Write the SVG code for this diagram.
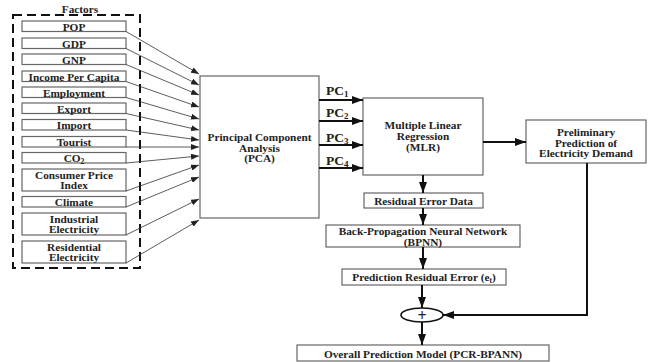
<svg xmlns="http://www.w3.org/2000/svg" width="651" height="362" viewBox="0 0 651 362">
<style>
text{font-family:"Liberation Serif","Times New Roman",serif;font-weight:bold;fill:#222;text-anchor:middle}
.t{font-size:11.3px}
.pc{font-size:13.5px;text-anchor:start}
.box{fill:#fff;stroke:#666;stroke-width:1.2}
.thin{fill:none;stroke:#333;stroke-width:0.8}
.thick{fill:none;stroke:#111;stroke-width:2}
</style>
<defs>
<marker id="ah" markerUnits="userSpaceOnUse" markerWidth="8" markerHeight="6" refX="8" refY="3" orient="auto">
<path d="M0,0 L8,3 L0,6 Z" fill="#222"/>
</marker>
<marker id="ahb" markerUnits="userSpaceOnUse" markerWidth="11" markerHeight="8" refX="11" refY="4" orient="auto">
<path d="M0,0 L11,4 L0,8 Z" fill="#111"/>
</marker>
</defs>
<rect width="651" height="362" fill="#fff"/>
<g id="factors">
<rect x="13" y="15" width="127" height="253" fill="none" stroke="#111" stroke-width="2" stroke-dasharray="9,5"/>
<text class="t" x="80" y="13">Factors</text>
</g>
<g id="f-pop"><rect class="box" x="22" y="21" width="104" height="10.5"/><text class="t" x="74" y="30.5">POP</text></g>
<g id="f-gdp"><rect class="box" x="22" y="38" width="104" height="10.5"/><text class="t" x="74" y="47.5">GDP</text></g>
<g id="f-gnp"><rect class="box" x="22" y="54" width="104" height="10.5"/><text class="t" x="74" y="63.5">GNP</text></g>
<g id="f-income"><rect class="box" x="22" y="71" width="104" height="10.5"/><text class="t" x="74" y="80.5">Income Per Capita</text></g>
<g id="f-emp"><rect class="box" x="22" y="87" width="104" height="10.5"/><text class="t" x="74" y="96.5">Employment</text></g>
<g id="f-export"><rect class="box" x="22" y="103" width="104" height="10.5"/><text class="t" x="74" y="112.5">Export</text></g>
<g id="f-import"><rect class="box" x="22" y="119.5" width="104" height="10.5"/><text class="t" x="74" y="129">Import</text></g>
<g id="f-tourist"><rect class="box" x="22" y="136.5" width="104" height="10.5"/><text class="t" x="74" y="146">Tourist</text></g>
<g id="f-co2"><rect class="box" x="22" y="152.5" width="104" height="10.5"/><text class="t" x="74" y="162">CO<tspan font-size="7.5" dy="2">2</tspan></text></g>
<g id="f-cpi"><rect class="box" x="22" y="169" width="104" height="22"/><text class="t" x="74" y="178.5">Consumer Price</text><text class="t" x="74" y="189">Index</text></g>
<g id="f-climate"><rect class="box" x="22" y="196.5" width="104" height="10.5"/><text class="t" x="74" y="206">Climate</text></g>
<g id="f-ind"><rect class="box" x="22" y="213" width="104" height="22"/><text class="t" x="74" y="222.5">Industrial</text><text class="t" x="74" y="233">Electricity</text></g>
<g id="f-res"><rect class="box" x="22" y="241" width="104" height="22"/><text class="t" x="74" y="250.5">Residential</text><text class="t" x="74" y="261">Electricity</text></g>

<g id="pca"><rect class="box" x="200" y="76" width="119" height="142"/>
<text class="t" x="259.5" y="141">Principal Component</text>
<text class="t" x="259.5" y="151.5">Analysis</text>
<text class="t" x="259.5" y="162">(PCA)</text></g>

<g id="mlr"><rect class="box" x="363" y="98" width="120" height="77"/>
<text class="t" x="423" y="129">Multiple Linear</text>
<text class="t" x="423" y="140">Regression</text>
<text class="t" x="423" y="150.5">(MLR)</text></g>

<g id="prelim"><rect class="box" x="526" y="120" width="120" height="43"/>
<text class="t" x="586" y="136">Preliminary</text>
<text class="t" x="586" y="146.5">Prediction of</text>
<text class="t" x="586" y="157">Electricity Demand</text></g>

<g id="resid"><rect class="box" x="364" y="193" width="119" height="15"/>
<text class="t" x="423.5" y="204.5">Residual Error Data</text></g>

<g id="bpnn"><rect class="box" x="326" y="225" width="194" height="22"/>
<text class="t" x="423" y="235">Back-Propagation Neural Network</text>
<text class="t" x="423" y="245.5">(BPNN)</text></g>

<g id="pre"><rect class="box" x="342" y="269" width="164" height="16"/>
<text class="t" x="424" y="281">Prediction Residual Error (e<tspan font-size="7.5" dy="2">t</tspan><tspan dy="-2">)</tspan></text></g>

<g id="sum"><ellipse cx="422" cy="315" rx="21" ry="7" fill="#fff" stroke="#111" stroke-width="1.6"/>
<text x="422" y="320.5" style="font-size:16px">+</text></g>

<g id="overall"><rect class="box" x="297" y="345" width="252" height="16"/>
<text class="t" x="423" y="357.5">Overall Prediction Model (PCR-BPANN)</text></g>

<g id="pclabels">
<text class="pc" x="326" y="95">PC<tspan font-size="9" dy="2">1</tspan></text>
<text class="pc" x="326" y="117">PC<tspan font-size="9" dy="2">2</tspan></text>
<text class="pc" x="326" y="142">PC<tspan font-size="9" dy="2">3</tspan></text>
<text class="pc" x="326" y="165">PC<tspan font-size="9" dy="2">4</tspan></text>
</g>

<g id="connectors">
<g class="thin" marker-end="url(#ah)">
<line x1="126" y1="31.5" x2="199" y2="74"/>
<line x1="126" y1="48.5" x2="199" y2="85"/>
<line x1="126" y1="64.5" x2="199" y2="95"/>
<line x1="126" y1="81.5" x2="199" y2="107"/>
<line x1="126" y1="97.5" x2="199" y2="119"/>
<line x1="126" y1="113.5" x2="199" y2="130"/>
<line x1="126" y1="130" x2="199" y2="140"/>
<line x1="126" y1="147" x2="199" y2="147"/>
<line x1="126" y1="163" x2="199" y2="156"/>
<line x1="126" y1="191" x2="199" y2="165"/>
<line x1="126" y1="207" x2="199" y2="177"/>
<line x1="126" y1="235" x2="199" y2="199"/>
<line x1="126" y1="263" x2="199" y2="220"/>
</g>
<g class="thick" marker-end="url(#ahb)">
<line x1="319" y1="100" x2="363" y2="100"/>
<line x1="319" y1="121" x2="363" y2="121"/>
<line x1="319" y1="145" x2="363" y2="145"/>
<line x1="319" y1="168" x2="363" y2="168"/>
<line x1="483" y1="142" x2="526" y2="142"/>
<line x1="423" y1="175" x2="423" y2="193"/>
<line x1="423" y1="208" x2="423" y2="225"/>
<line x1="423" y1="247" x2="423" y2="269"/>
<line x1="422" y1="285" x2="422" y2="308"/>
<line x1="422" y1="322" x2="422" y2="345"/>
<path d="M587 163 V315 H443"/>
</g>
</g>
</svg>
